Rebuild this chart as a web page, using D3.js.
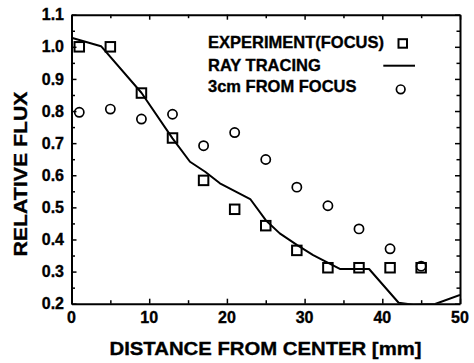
<!DOCTYPE html>
<html>
<head>
<meta charset="utf-8">
<script src="https://cdn.jsdelivr.net/npm/d3@7"></script>
<style>
  body { margin: 0; background: #fff; }
  svg text { font-family: "Liberation Sans", Arial, sans-serif; font-weight: bold; fill: #000; stroke: #000; stroke-width: 0.35; }
</style>
</head>
<body>
<svg id="chart" width="474" height="363"></svg>
<script>
// experiment at focus (squares)
var expX = [1, 5, 9, 13, 17, 21, 25, 29, 33, 37, 41, 45];
var expY = [1.0, 1.0, 0.856, 0.716, 0.584, 0.494, 0.443, 0.366, 0.312, 0.312, 0.312, 0.312];

// 3cm from focus (circles)
var offX = [1, 5, 9, 13, 17, 21, 25, 29, 33, 37, 41, 45];
var offY = [0.796, 0.806, 0.775, 0.790, 0.692, 0.733, 0.649, 0.563, 0.505, 0.433, 0.371, 0.317];

// ray tracing (line)
var rayX = [0, 3.8, 9, 13, 15.25, 17.2, 19.1, 23, 25, 26.8, 29, 31.1, 34.6, 38.3, 42.1, 44, 46.8, 50];
var rayY = [1.028, 1.002, 0.857, 0.715, 0.642, 0.611, 0.575, 0.526, 0.46, 0.419, 0.383, 0.351, 0.308, 0.308, 0.203, 0.197, 0.199, 0.227];

var xTicks = [0, 10, 20, 30, 40, 50];
var yTicks = [0.2, 0.3, 0.4, 0.5, 0.6, 0.7, 0.8, 0.9, 1.0, 1.1];
var legendLabels = ["EXPERIMENT(FOCUS)", "RAY TRACING", "3cm FROM FOCUS"];

var svg = d3.select("#chart");
var plotL = 71.5, plotR = 460, plotT = 14.7, plotB = 303.7;

var x = d3.scaleLinear().domain([0, 50]).range([plotL, plotR]);
var y = d3.scaleLinear().domain([0.2, 1.1]).range([plotB, plotT]);

svg.append("clipPath").attr("id", "clip")
  .append("rect")
  .attr("x", plotL).attr("y", plotT)
  .attr("width", plotR - plotL).attr("height", plotB - plotT);

// minor ticks every 5 / 0.05
var xMinor = d3.range(0, 51, 5);
var yMinor = d3.range(0, 19).map(function(i) { return +(0.2 + i * 0.05).toFixed(2); });

// bottom axis
var gB = svg.append("g").attr("transform", "translate(0," + plotB + ")");
gB.call(d3.axisBottom(x).tickValues(xMinor).tickSizeOuter(0).tickFormat(""));
gB.selectAll(".tick line").attr("y2", function(d) { return d % 10 === 0 ? -5 : -3.5; });
// top axis
var gT = svg.append("g").attr("transform", "translate(0," + plotT + ")");
gT.call(d3.axisTop(x).tickValues(xMinor).tickSizeOuter(0).tickFormat(""));
gT.selectAll(".tick line").attr("y2", function(d) { return d % 10 === 0 ? 5 : 3.5; });
// left axis
var gL = svg.append("g").attr("transform", "translate(" + plotL + ",0)");
gL.call(d3.axisLeft(y).tickValues(yMinor).tickSizeOuter(0).tickFormat(""));
gL.selectAll(".tick line").attr("x2", function(d, i) { return i % 2 === 0 ? 5 : 3.5; });
// right axis
var gR = svg.append("g").attr("transform", "translate(" + plotR + ",0)");
gR.call(d3.axisRight(y).tickValues(yMinor).tickSizeOuter(0).tickFormat(""));
gR.selectAll(".tick line").attr("x2", function(d, i) { return i % 2 === 0 ? -5 : -3.5; });

svg.selectAll(".domain").attr("stroke", "#000").attr("stroke-width", 2);
svg.selectAll(".tick line").attr("stroke", "#000").attr("stroke-width", 1.5);

// tick labels
svg.selectAll("text.xt").data(xTicks).enter().append("text")
  .attr("class", "xt")
  .attr("x", function(d) { return x(d); })
  .attr("y", 322.7)
  .attr("text-anchor", "middle")
  .attr("font-size", 16)
  .text(function(d) { return d; });

svg.selectAll("text.yt").data(yTicks).enter().append("text")
  .attr("class", "yt")
  .attr("x", 64)
  .attr("y", function(d) { return y(d) + 5.6; })
  .attr("text-anchor", "end")
  .attr("font-size", 16)
  .text(function(d) { return d.toFixed(1); });

// axis titles
svg.append("text")
  .attr("x", (109.3 + 421.7) / 2)
  .attr("y", 355)
  .attr("text-anchor", "middle")
  .attr("font-size", 19)
  .attr("textLength", 312)
  .attr("lengthAdjust", "spacingAndGlyphs")
  .text("DISTANCE FROM CENTER [mm]");

svg.append("text")
  .attr("transform", "translate(26.9,174) rotate(-90)")
  .attr("text-anchor", "middle")
  .attr("font-size", 19)
  .attr("textLength", 165)
  .attr("lengthAdjust", "spacingAndGlyphs")
  .text("RELATIVE FLUX");

// ray tracing line
var rayData = rayX.map(function(d, i) { return [d, rayY[i]]; });
svg.append("path")
  .datum(rayData)
  .attr("clip-path", "url(#clip)")
  .attr("fill", "none")
  .attr("stroke", "#000")
  .attr("stroke-width", 2)
  .attr("stroke-linejoin", "round")
  .attr("d", d3.line().x(function(d) { return x(d[0]); }).y(function(d) { return y(d[1]); }));

// squares
var sq = 9.5;
svg.selectAll("rect.exp").data(expX).enter().append("rect")
  .attr("class", "exp")
  .attr("x", function(d) { return x(d) - sq / 2; })
  .attr("y", function(d, i) { return y(expY[i]) - sq / 2; })
  .attr("width", sq).attr("height", sq)
  .attr("fill", "none").attr("stroke", "#000").attr("stroke-width", 2);

// circles
svg.selectAll("circle.off").data(offX).enter().append("circle")
  .attr("class", "off")
  .attr("cx", function(d) { return x(d); })
  .attr("cy", function(d, i) { return y(offY[i]); })
  .attr("r", 4.6)
  .attr("fill", "none").attr("stroke", "#000").attr("stroke-width", 1.7);

// legend
var legBase = [48.3, 70.7, 92.3];
svg.selectAll("text.leg").data(legendLabels).enter().append("text")
  .attr("class", "leg")
  .attr("x", 208)
  .attr("y", function(d, i) { return legBase[i]; })
  .attr("font-size", 16.5)
  .text(function(d) { return d; });

svg.append("rect")
  .attr("x", 398.5).attr("y", 39.2).attr("width", 8.5).attr("height", 8.5)
  .attr("fill", "none").attr("stroke", "#000").attr("stroke-width", 2);
svg.append("line")
  .attr("x1", 383.3).attr("x2", 415).attr("y1", 65.7).attr("y2", 65.7)
  .attr("stroke", "#000").attr("stroke-width", 2);
svg.append("circle")
  .attr("cx", 400.7).attr("cy", 89.3).attr("r", 4.3)
  .attr("fill", "none").attr("stroke", "#000").attr("stroke-width", 1.7);
</script>
</body>
</html>
